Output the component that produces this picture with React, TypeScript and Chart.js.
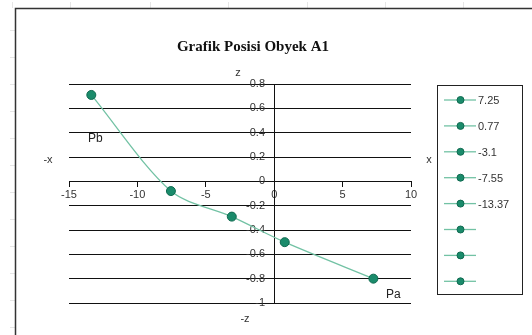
import React, { useEffect, useRef } from "react";
import { Chart, registerables } from "chart.js";

Chart.register(...registerables);

// Object A1 positions (x, z)
const xValues = [7.25, 0.77, -3.1, -7.55, -13.37];
const zValues = [-0.8, -0.5, -0.29, -0.08, 0.71];

// Legend entries (last three series are unnamed)
const legendLabels = ["7.25", "0.77", "-3.1", "-7.55", "-13.37", "", "", ""];

const titleText = "Grafik Posisi Obyek A1";
const xRange = [-15, 10];
const zRange = [-1, 0.8];

const LINE_COLOR = "#72c2a4";
const MARKER_FILL = "#1a8b6b";
const MARKER_EDGE = "#0f6a50";
const SANS = '"Liberation Sans", Arial, sans-serif';
const SERIF = '"Liberation Serif", "Times New Roman", serif';

const decorPlugin = {
  id: "decor",
  beforeDraw(chart: any) {
    const ctx = chart.ctx;
    ctx.save();
    ctx.fillStyle = "#ffffff";
    ctx.fillRect(0, 0, chart.width, chart.height);
    // faint worksheet cell marks around the chart frame
    ctx.strokeStyle = "#e6e6e6";
    ctx.lineWidth = 1;
    [12, 70, 150, 228, 307, 385, 463].forEach((x) => {
      ctx.beginPath();
      ctx.moveTo(x + 0.5, 2);
      ctx.lineTo(x + 0.5, 8);
      ctx.stroke();
    });
    [30, 57, 84, 111, 138, 165, 192, 219, 246, 273, 300, 327].forEach((y) => {
      ctx.beginPath();
      ctx.moveTo(10, y + 0.5);
      ctx.lineTo(15, y + 0.5);
      ctx.stroke();
    });
    // chart frame
    ctx.strokeStyle = "#333";
    ctx.lineWidth = 1.5;
    ctx.strokeRect(15.5, 8.5, 540, 340);
    ctx.restore();
  },
  afterDraw(chart: any) {
    const ctx = chart.ctx;
    ctx.save();
    // title
    ctx.fillStyle = "#111";
    ctx.font = `bold 15px ${SERIF}`;
    ctx.textAlign = "center";
    ctx.textBaseline = "middle";
    ctx.fillText(titleText, 253, 47);

    // axis direction labels
    ctx.font = `11px ${SANS}`;
    ctx.fillStyle = "#333";
    ctx.fillText("z", 238, 73);
    ctx.fillText("-z", 245, 319);
    ctx.fillText("x", 429, 160);
    ctx.fillText("-x", 48, 160);

    // end point labels
    ctx.font = `12px ${SANS}`;
    ctx.fillStyle = "#222";
    const xs = chart.scales.x;
    const ys = chart.scales.y;
    const iB = zValues.indexOf(Math.max(...zValues));
    const iA = zValues.indexOf(Math.min(...zValues));
    ctx.fillText("Pb", xs.getPixelForValue(xValues[iB]) + 4, ys.getPixelForValue(zValues[iB]) + 44);
    ctx.fillText("Pa", xs.getPixelForValue(xValues[iA]) + 20, ys.getPixelForValue(zValues[iA]) + 16);

    // legend
    const lx = 437;
    const ly = 85;
    const lw = 85;
    const lh = 209;
    ctx.strokeStyle = "#222";
    ctx.lineWidth = 1;
    ctx.fillStyle = "#fff";
    ctx.fillRect(lx, ly, lw, lh);
    ctx.strokeRect(lx + 0.5, ly + 0.5, lw, lh);
    ctx.font = `11px ${SANS}`;
    ctx.textAlign = "left";
    legendLabels.forEach((label, i) => {
      const y = ly + 15 + i * 25.9;
      ctx.strokeStyle = LINE_COLOR;
      ctx.lineWidth = 1.3;
      ctx.beginPath();
      ctx.moveTo(lx + 7, y);
      ctx.lineTo(lx + 39, y);
      ctx.stroke();
      ctx.beginPath();
      ctx.arc(lx + 23.5, y, 3.5, 0, Math.PI * 2);
      ctx.fillStyle = MARKER_FILL;
      ctx.fill();
      ctx.strokeStyle = MARKER_EDGE;
      ctx.lineWidth = 1;
      ctx.stroke();
      ctx.fillStyle = "#333";
      ctx.fillText(label, lx + 41, y + 1);
    });
    ctx.restore();
  },
};

export default function App() {
  const ref = useRef<HTMLCanvasElement | null>(null);

  useEffect(() => {
    if (!ref.current) return;
    const chart = new Chart(ref.current, {
      type: "scatter",
      data: {
        datasets: [
          {
            data: xValues.map((x, i) => ({ x, y: zValues[i] })),
            showLine: true,
            tension: 0.3,
            borderColor: LINE_COLOR,
            borderWidth: 1.3,
            pointRadius: 4.5,
            pointBackgroundColor: MARKER_FILL,
            pointBorderColor: MARKER_EDGE,
            pointBorderWidth: 1,
          },
        ],
      },
      options: {
        responsive: false,
        animation: false,
        devicePixelRatio: 1,
        layout: { padding: { left: 69, top: 84, right: 121, bottom: 32 } },
        plugins: {
          legend: { display: false },
          title: { display: false },
          tooltip: { enabled: false },
        },
        scales: {
          x: {
            type: "linear",
            min: xRange[0],
            max: xRange[1],
            position: { y: 0 } as any,
            ticks: {
              stepSize: 5,
              padding: 2,
              color: "#333",
              font: { family: SANS, size: 11 },
            },
            grid: {
              drawOnChartArea: false,
              drawTicks: true,
              tickLength: 5,
              color: "#111",
            },
            border: { color: "#111", width: 1 },
          },
          y: {
            type: "linear",
            min: zRange[0],
            max: zRange[1],
            position: { x: 0 } as any,
            ticks: {
              stepSize: 0.2,
              color: "#333",
              font: { family: SANS, size: 11 },
              // trailing gap keeps the labels clear of the vertical axis line
              callback: (v: any) => String(Number(Number(v).toFixed(1))) + "   ",
            },
            grid: {
              drawOnChartArea: true,
              drawTicks: false,
              color: "#111",
              lineWidth: 1,
            },
            border: { color: "#111", width: 1 },
          },
        },
      },
      plugins: [decorPlugin],
    });
    return () => chart.destroy();
  }, []);

  return (
    <div style={{ position: "fixed", left: 0, top: 0, width: 532, height: 335 }}>
      <canvas ref={ref} width={532} height={335} />
    </div>
  );
}
